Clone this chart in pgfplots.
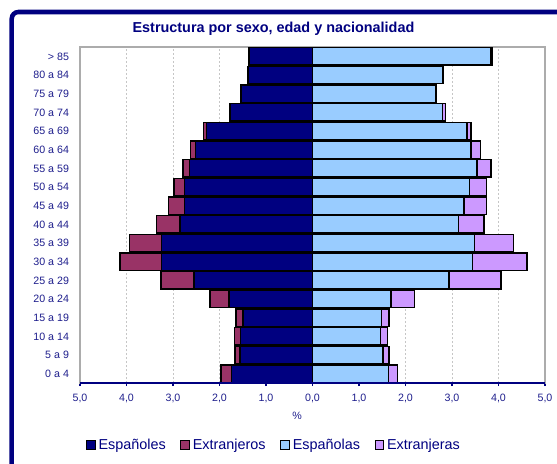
\documentclass[border=0pt]{standalone}
\usepackage{fontspec}
\setmainfont{Liberation Sans}
\usepackage{pgfplots}
\usepackage{pgfplotstable}
\pgfplotsset{compat=1.18}
\definecolor{espm}{RGB}{0,0,128}
\definecolor{extm}{RGB}{153,51,102}
\definecolor{espf}{RGB}{153,204,255}
\definecolor{extf}{RGB}{204,153,255}
\definecolor{txt}{RGB}{0,0,128}
\definecolor{lbl}{RGB}{30,30,140}

% espm/espf: Spanish nationals; totm/totf: Spanish + foreigners (stack ends)
\pgfplotstableread{
idx espm totm espf totf
0  -1.74 -1.97 1.63 1.83
1  -1.56 -1.67 1.52 1.65
2  -1.55 -1.68 1.46 1.61
3  -1.49 -1.65 1.48 1.65
4  -1.80 -2.20 1.69 2.19
5  -2.55 -3.26 2.94 4.05
6  -3.25 -4.14 3.44 4.61
7  -3.25 -3.93 3.48 4.32
8  -2.85 -3.35 3.14 3.69
9  -2.75 -3.10 3.26 3.74
10 -2.75 -2.98 3.38 3.74
11 -2.65 -2.78 3.54 3.84
12 -2.52 -2.62 3.41 3.61
13 -2.28 -2.34 3.32 3.41
14 -1.76 -1.79 2.80 2.86
15 -1.53 -1.55 2.64 2.66
16 -1.38 -1.40 2.80 2.82
17 -1.35 -1.37 3.84 3.86
}\datatable

\begin{document}
\begin{tikzpicture}
\path[use as bounding box] (-60pt,-60.75pt) rectangle (357.75pt,287.25pt);
\clip (-60pt,-60.75pt) rectangle (357.75pt,287.25pt);
\draw[txt, line width=3.4pt, rounded corners=5pt] (-51.2pt,-120pt) rectangle (420pt,278.25pt);
\begin{axis}[
  scale only axis, width=348.75pt, height=252pt,
  at={(0pt,0pt)}, anchor=south west,
  xbar, bar shift=0pt, bar width=0.92,
  xmin=-5, xmax=5, ymin=-0.5, ymax=17.5,
  xtick={-5,...,5},
  xticklabels={{5,0},{4,0},{3,0},{2,0},{1,0},{0,0},{1,0},{2,0},{3,0},{4,0},{5,0}},
  ytick={0,...,17},
  yticklabels={0 a 4, 5 a 9, 10 a 14, 15 a 19, 20 a 24, 25 a 29, 30 a 34, 35 a 39, 40 a 44, 45 a 49, 50 a 54, 55 a 59, 60 a 64, 65 a 69, 70 a 74, 75 a 79, 80 a 84, > 85},
  tick align=outside, major tick length=2.25pt,
  xtick pos=lower, xticklabel pos=lower,
  ytick style={draw=none},
  xtick style={draw=txt, line width=0.8pt},
  xticklabel style={font=\fontsize{8}{9}\selectfont, text=lbl, yshift=-2.5pt},
  yticklabel style={font=\fontsize{8}{9}\selectfont, text=lbl, xshift=-2.5pt},
  /pgf/number format/assume math mode=true,
  xmajorgrids, major grid style={draw=gray!45, dash pattern=on 1.5pt off 1.5pt, line width=0.5pt},
  axis line style={draw=gray!65, line width=0.9pt},
  legend image code/.code={\draw[#1, draw=black, line width=0.7pt] (0pt,-3.3pt) rectangle (6.6pt,3.3pt);},
  legend style={at={(0.418,-0.1845)}, anchor=center, legend columns=4, draw=none, fill=none,
    font=\fontsize{10.8}{12}\selectfont, text=txt,
    /tikz/every even column/.append style={column sep=9pt}},
  legend cell align=left,
]
\addplot[fill=extm, draw=black, line width=1.1pt, forget plot] table[x=totm, y=idx] {\datatable};
\addplot[fill=extf, draw=black, line width=1.1pt, forget plot] table[x=totf, y=idx] {\datatable};
\addplot[fill=espm, draw=black, line width=1.1pt, forget plot] table[x=espm, y=idx] {\datatable};
\addplot[fill=espf, draw=black, line width=1.1pt, forget plot] table[x=espf, y=idx] {\datatable};
\draw[txt, line width=1.1pt] (rel axis cs:0,0) -- (rel axis cs:1,0);
\addlegendimage{fill=espm}\addlegendentry{Españoles}
\addlegendimage{fill=extm}\addlegendentry{Extranjeros}
\addlegendimage{fill=espf}\addlegendentry{Españolas}
\addlegendimage{fill=extf}\addlegendentry{Extranjeras}
\end{axis}
\node[text=txt, font=\bfseries\fontsize{10.8}{12}\selectfont] at (145.1pt,265.5pt) {Estructura por sexo, edad y nacionalidad};
\node[text=lbl, font=\fontsize{8}{9}\selectfont] at (162.75pt,-24.75pt) {\%};
\end{tikzpicture}
\end{document}
